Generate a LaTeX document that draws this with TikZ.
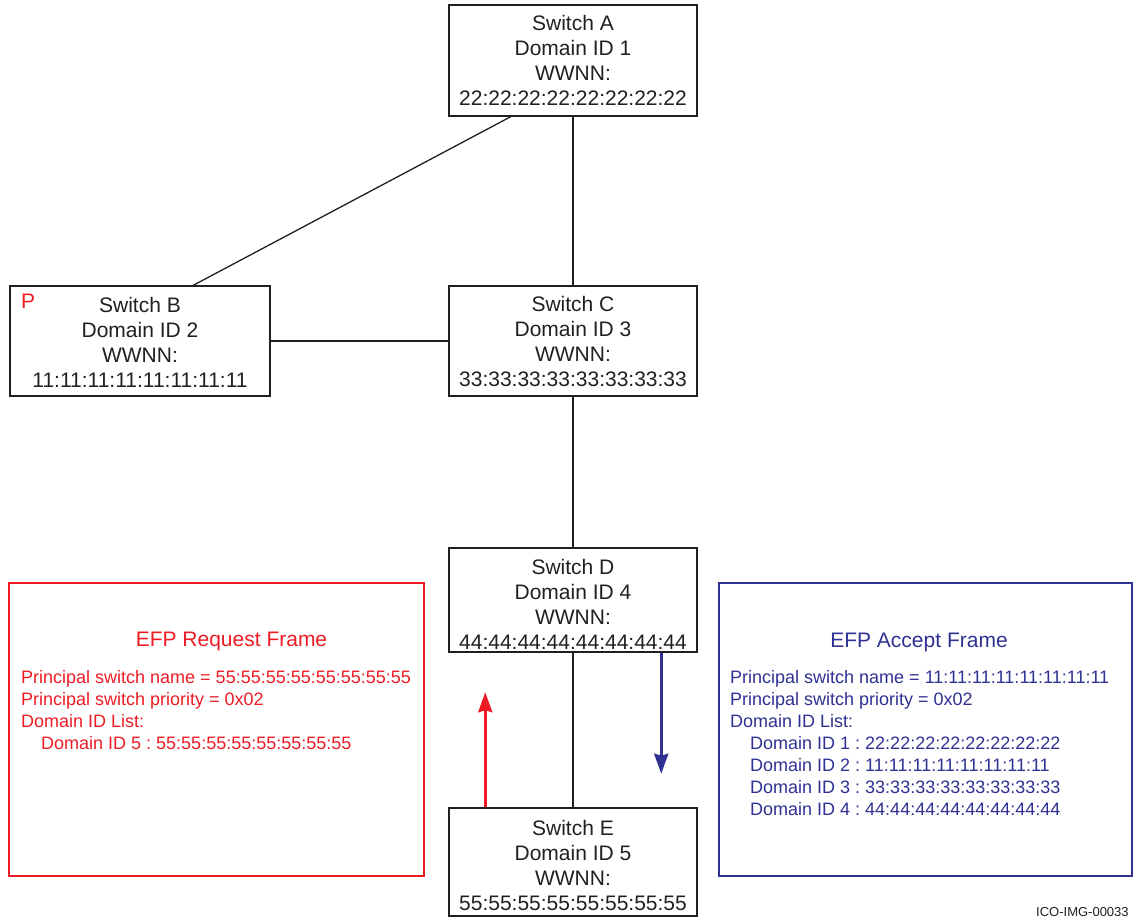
\documentclass[tikz,border=0pt]{standalone}
\usepackage{fontspec}
\setmainfont{Liberation Sans}
\usetikzlibrary{arrows.meta,calc}
\definecolor{efpred}{RGB}{237,28,36}
\definecolor{efpblue}{RGB}{46,49,146}
\definecolor{ink}{RGB}{35,31,32}
\frenchspacing
\begin{document}
\begin{tikzpicture}[x=1pt,y=-1pt,
  sw/.style={draw=ink, line width=1.5pt, inner sep=0pt, align=center, text=ink,
             minimum width=248, font=\fontsize{21}{25}\selectfont},
  framebox/.style={draw, line width=2pt, inner sep=0pt},
  ftitle/.style={font=\fontsize{21}{25}\selectfont, inner sep=0pt},
  fline/.style={anchor=base west, font=\fontsize{18}{22}\selectfont, inner sep=0pt},
  link/.style={draw=ink, line width=1.3pt},
  flow/.style={line width=3pt, -{Stealth[length=20pt,width=14pt,inset=2pt]}}]
\useasboundingbox (0,0) rectangle (1133,919);

% switches
\node[sw, minimum height=111] (A) at (573,60.5) {Switch A\\Domain ID 1\\WWNN:\\22:22:22:22:22:22:22:22};
\node[sw, minimum width=260, minimum height=110] (B) at (140,341) {\rule{0pt}{17pt}Switch B\\Domain ID 2\\WWNN:\\11:11:11:11:11:11:11:11};
\node[sw, minimum height=110] (C) at (573,341) {\rule{0pt}{17pt}Switch C\\Domain ID 3\\WWNN:\\33:33:33:33:33:33:33:33};
\node[sw, minimum height=104] (D) at (573,600) {\rule{0pt}{23pt}Switch D\\Domain ID 4\\WWNN:\\44:44:44:44:44:44:44:44};
\node[sw, minimum height=108] (E) at (573,862) {\rule{0pt}{23pt}Switch E\\Domain ID 5\\WWNN:\\55:55:55:55:55:55:55:55};
\node[anchor=west, inner sep=0pt, text=efpred, font=\fontsize{21}{25}\selectfont] (P) at (21,301) {P};

% links
\draw[link] ($(A.south west)!0.25!(A.south east)$) -- ($(B.north west)!0.704!(B.north east)$);
\draw[link] (A.south) -- (C.north);
\draw[link] (B.east) -- (C.west);
\draw[link] (C.south) -- (D.north);
\draw[link] (D.south) -- (E.north);

% flow arrows
\draw[flow, efpred] ([xshift=37pt]E.north west) -- ++(0,-115);
\draw[flow, efpblue] ([xshift=213pt]D.south west) -- ++(0,121);

% request frame
\node[framebox, draw=efpred, minimum width=415, minimum height=293] (req) at (216.5,729.5) {};
\node[ftitle, text=efpred] (reqT) at (231.5,641) {EFP Request Frame};
\node[fline, text=efpred] (r1) at (21,683.5) {Principal switch name = 55:55:55:55:55:55:55:55};
\node[fline, text=efpred] (r2) at (21,705.5) {Principal switch priority = 0x02};
\node[fline, text=efpred] (r3) at (21,727.5) {Domain ID List:};
\node[fline, text=efpred] (r4) at (41,749.5) {Domain ID 5 : 55:55:55:55:55:55:55:55};

% accept frame
\node[framebox, draw=efpblue, minimum width=413, minimum height=293] (acc) at (925.5,729.5) {};
\node[ftitle, text=efpblue] (accT) at (919,642) {EFP Accept Frame};
\node[fline, text=efpblue] (a1) at (730,683.5) {Principal switch name = 11:11:11:11:11:11:11:11};
\node[fline, text=efpblue] (a2) at (730,705.5) {Principal switch priority = 0x02};
\node[fline, text=efpblue] (a3) at (730,727.5) {Domain ID List:};
\node[fline, text=efpblue] (a4) at (750,749.5) {Domain ID 1 : 22:22:22:22:22:22:22:22};
\node[fline, text=efpblue] (a5) at (750,771.5) {Domain ID 2 : 11:11:11:11:11:11:11:11};
\node[fline, text=efpblue] (a6) at (750,793.5) {Domain ID 3 : 33:33:33:33:33:33:33:33};
\node[fline, text=efpblue] (a7) at (750,815.5) {Domain ID 4 : 44:44:44:44:44:44:44:44};

% image id
\node[anchor=base west, inner sep=0pt, text=ink, font=\fontsize{13}{15}\selectfont] (id) at (1036,916) {ICO-IMG-00033};
\end{tikzpicture}
\end{document}
